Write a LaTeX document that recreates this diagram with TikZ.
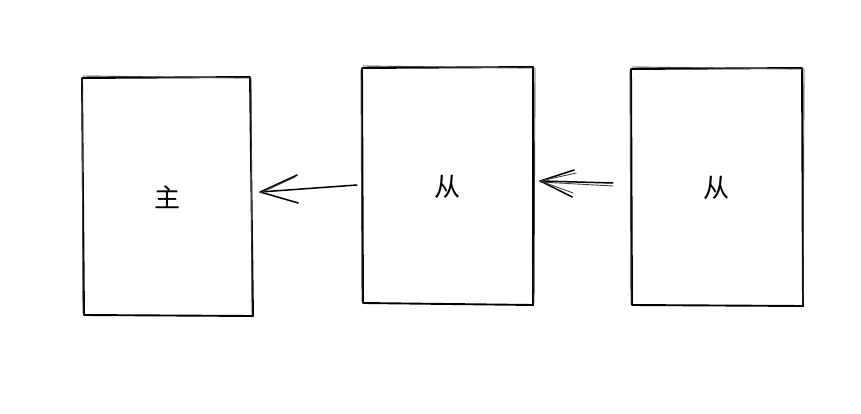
\documentclass[tikz,border=0pt]{standalone}
\usepackage{fontspec}
\newfontfamily\cjk{Noto Sans CJK SC}
\begin{document}
\begin{tikzpicture}[x=1pt,y=-1pt,
  sk/.style={draw=black,line width=1.9pt,line cap=round,line join=round},
  sk2/.style={draw=black!75,line width=0.9pt,line cap=round},
  lbl/.style={font=\cjk\fontsize{26}{26}\selectfont,inner sep=0pt}]
\useasboundingbox[fill=white] (0,0) rectangle (861,414);
% box 1
\node[minimum width=170pt,minimum height=238pt,inner sep=0pt] (b1) at (167,196.5) {};
\draw[sk] (82,78) -- (250,77) -- (253,316) -- (84,315) -- cycle;
\draw[sk2] (83,76) -- (251,78) (251,79) -- (252,314) (82,80) -- (83,313);
% box 2
\node[minimum width=171pt,minimum height=238pt,inner sep=0pt] (b2) at (447.5,186) {};
\draw[sk] (362,68) -- (533,67) -- (533,305) -- (363,303) -- cycle;
\draw[sk2] (363,66) -- (535,68) (535,69) -- (534,303) (361,70) -- (362,301);
% box 3
\node[minimum width=172pt,minimum height=238pt,inner sep=0pt] (b3) at (717,187) {};
\draw[sk] (631,69) -- (802,68) -- (803,306) -- (632,305) -- cycle;
\draw[sk2] (632,67) -- (804,69) (804,70) -- (803,304) (630,71) -- (631,303);
% labels
\node[lbl] (t1) at (167,197) {主};
\node[lbl] (t2) at (447,187) {从};
\node[lbl] (t3) at (716,188) {从};
% arrow 1: b2 -> b1
\coordinate (a1s) at ([xshift=-5pt,yshift=1pt]b2.west);
\coordinate (a1e) at ([xshift=8pt,yshift=4.5pt]b1.east);
\draw[sk,line width=1.5pt] (a1s) -- (a1e);
\draw[sk,line width=1.5pt] (a1e) -- ++(37,-17);
\draw[sk,line width=1.5pt] (a1e) -- ++(38,11);
\draw[sk2] ([yshift=-1pt]a1e) -- ++(35,-16);
% arrow 2: b3 -> b2
\coordinate (a2s) at ([xshift=-18pt,yshift=4pt]b3.west);
\coordinate (a2e) at ([xshift=7pt,yshift=5pt]b2.east);
\draw[sk,line width=1.5pt] (a2s) -- (a2e);
\draw[sk2] ([yshift=-3pt]a2s) -- ([yshift=-1pt]a2e);
\draw[sk,line width=1.5pt] (a2e) -- ++(34,-11);
\draw[sk2] (a2e) -- ++(36,-8);
\draw[sk,line width=1.5pt] (a2e) -- ++(32,16);
\draw[sk2] (a2e) -- ++(33,12);
\end{tikzpicture}
\end{document}
